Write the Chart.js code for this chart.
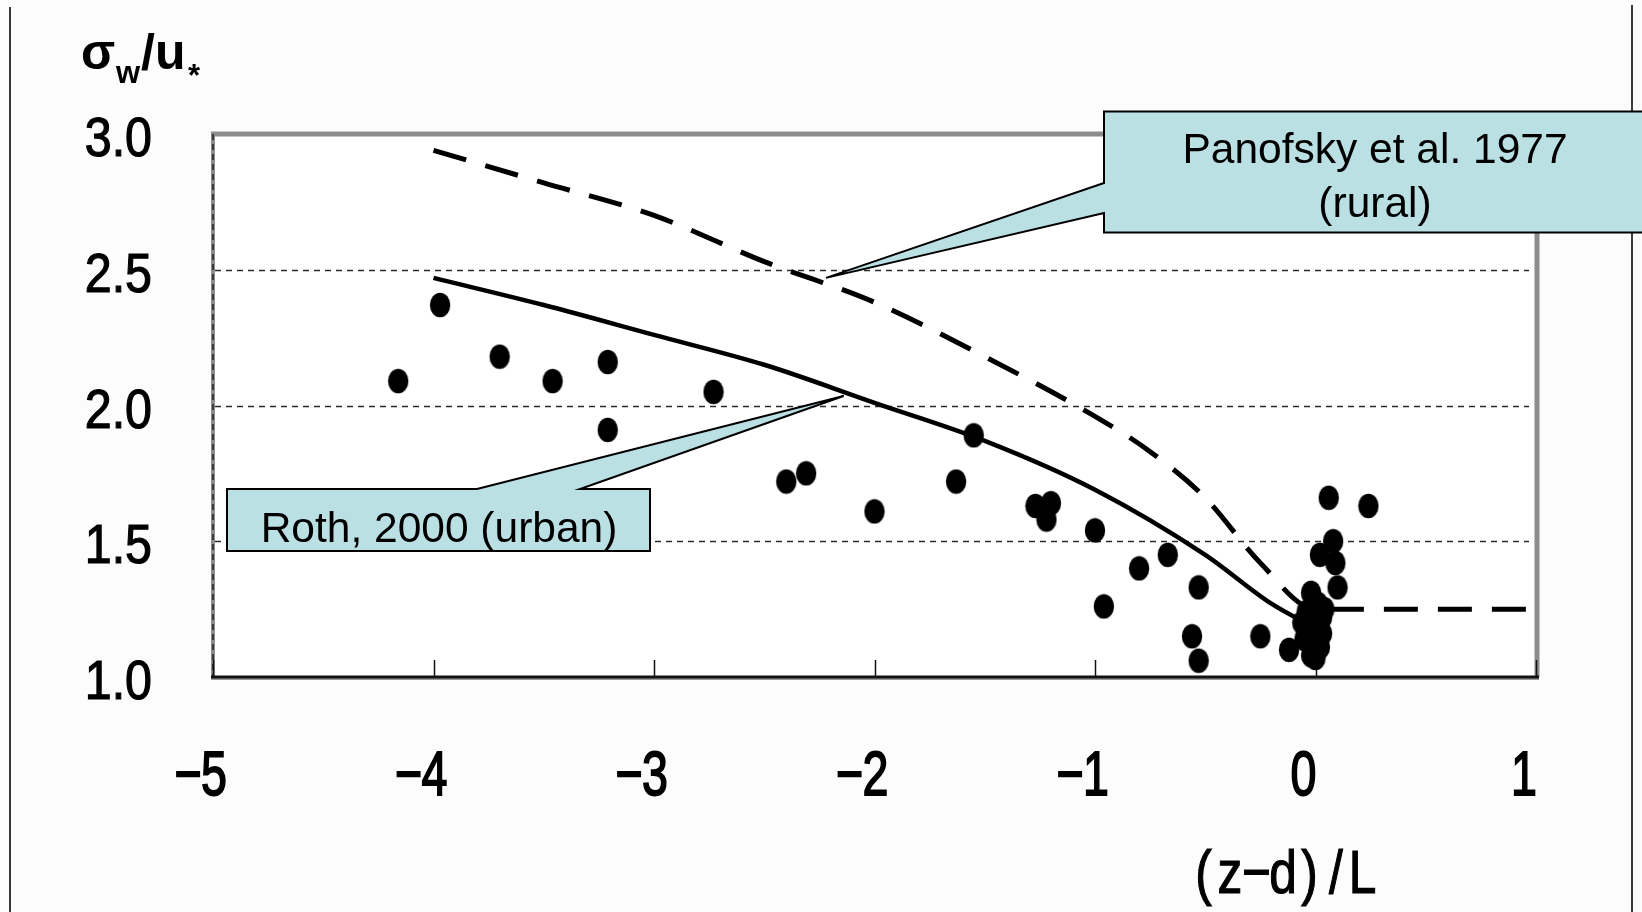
<!DOCTYPE html>
<html>
<head>
<meta charset="utf-8">
<title>sigma_w/u* against (z-d)/L</title>
<script src="https://cdn.jsdelivr.net/npm/chart.js@4.4.1/dist/chart.umd.min.js"></script>
<style>
  html, body { margin: 0; padding: 0; background: #fcfcfc; }
  canvas { display: block; }
</style>
</head>
<body>
<canvas id="chart" width="1642" height="912"></canvas>
<script>
const obsX = [-4.16, -3.97, -3.70, -3.46, -3.21, -3.21, -2.73, -2.40, -2.31, -2.00,
              -1.63, -1.55, -1.27, -1.20, -1.22, -1.00, -0.96, -0.80, -0.67, -0.53,
              -0.56, -0.53, -0.25, -0.12, 0.06, 0.24, 0.08, 0.02, 0.09, 0.10,
              -0.02, 0.01, -0.04, 0.03, -0.03, 0.03, -0.02, 0.02, -0.02, 0.00,
              -0.06, 0.04, -0.05];
const obsY = [2.09, 2.37, 2.18, 2.09, 2.16, 1.91, 2.05, 1.72, 1.75, 1.61,
              1.72, 1.89, 1.63, 1.64, 1.58, 1.54, 1.26, 1.40, 1.45, 1.33,
              1.15, 1.06, 1.15, 1.10, 1.66, 1.63, 1.50, 1.45, 1.42, 1.33,
              1.31, 1.27, 1.24, 1.22, 1.19, 1.16, 1.14, 1.11, 1.08, 1.07,
              1.20, 1.25, 1.14];

// Panofsky et al. 1977 (rural) - dashed curve
const panX = [-4, -3.5, -3, -2.5, -2, -1.5, -1, -0.75, -0.5, -0.25, 0, 0.5, 1];
const panY = [2.94, 2.82, 2.70, 2.53, 2.38, 2.18, 1.96, 1.83, 1.66, 1.42, 1.25, 1.25, 1.25];

// Roth, 2000 (urban) - solid curve
const rothX = [-4, -3.5, -3, -2.5, -2, -1.5, -1, -0.5, -0.2, 0];
const rothY = [2.47, 2.37, 2.26, 2.15, 2.01, 1.87, 1.69, 1.45, 1.27, 1.18];

const xTicks = [-5, -4, -3, -2, -1, 0, 1];
const xTickLabels = ['−5', '−4', '−3', '−2', '−1', '0', '1'];
const yTicks = [1.0, 1.5, 2.0, 2.5, 3.0];
const yTickLabels = ['1.0', '1.5', '2.0', '2.5', '3.0'];
const yGrid = [1.5, 2.0, 2.5];

// where the callout pointers touch the curves (data units)
const panTip = [-2.22, 2.47];
const rothTip = [-2.14, 2.035];

const toXY = (xs, ys) => xs.map((x, i) => ({ x: x, y: ys[i] }));

// slightly tall dots like in the original
const dot = document.createElement('canvas');
dot.width = 22;
dot.height = 26;
const dctx = dot.getContext('2d');
dctx.fillStyle = '#000';
dctx.beginPath();
dctx.ellipse(11, 13, 10.2, 12.2, 0, 0, Math.PI * 2);
dctx.fill();

function line(ctx, x1, y1, x2, y2) {
  ctx.beginPath();
  ctx.moveTo(x1, y1);
  ctx.lineTo(x2, y2);
  ctx.stroke();
}

// draws each character centred in a fixed-width cell (half-width gothic look)
function cellText(ctx, str, cx, base, cell, sx, stroke) {
  const chars = Array.from(str);
  const start = cx - chars.length * cell / 2;
  ctx.textAlign = 'center';
  chars.forEach((ch, i) => {
    ctx.save();
    ctx.translate(start + cell * (i + 0.5), base);
    ctx.scale(sx, 1);
    ctx.fillText(ch, 0, 0);
    if (stroke) {
      ctx.lineWidth = stroke;
      ctx.strokeText(ch, 0, 0);
    }
    ctx.restore();
  });
}

const framePlugin = {
  id: 'frame',
  beforeDatasetsDraw(chart) {
    const { ctx, chartArea: a, scales: { x, y } } = chart;
    ctx.save();

    // outer page rules
    ctx.strokeStyle = '#3a3a3a';
    ctx.lineWidth = 2;
    line(ctx, 10, 7, 10, 912);
    line(ctx, 1632, 5, 1632, 912);

    ctx.fillStyle = '#fff';
    ctx.fillRect(a.left, a.top, a.right - a.left, a.bottom - a.top);

    // dotted grid
    ctx.strokeStyle = '#2a2a2a';
    ctx.lineWidth = 1.5;
    ctx.setLineDash([6, 5]);
    yGrid.forEach(v => {
      const py = Math.round(y.getPixelForValue(v)) + 0.5;
      line(ctx, a.left + 2, py, a.right - 7, py);
    });
    ctx.setLineDash([]);

    // frame
    ctx.strokeStyle = '#8c8c8c';
    ctx.lineWidth = 5;
    line(ctx, a.left - 2, a.top, a.right + 2, a.top);
    line(ctx, a.right + 1, a.top, a.right + 1, a.bottom);
    ctx.lineWidth = 4;
    line(ctx, a.left, a.top, a.left, a.bottom);
    ctx.strokeStyle = '#222';
    ctx.lineWidth = 1.5;
    ctx.setLineDash([6, 4]);
    line(ctx, a.left, a.top, a.left, a.bottom);
    ctx.setLineDash([]);
    ctx.strokeStyle = '#999';
    ctx.lineWidth = 2;
    line(ctx, a.left - 2, a.bottom + 2, a.right + 3, a.bottom + 2);
    ctx.strokeStyle = '#111';
    ctx.lineWidth = 3;
    line(ctx, a.left - 2, a.bottom, a.right + 3, a.bottom);

    // small upward ticks
    ctx.lineWidth = 1.5;
    xTicks.forEach(v => {
      const px = Math.round(x.getPixelForValue(v)) + 0.5;
      line(ctx, px, a.bottom, px, a.bottom - 17);
    });
    ctx.restore();
  }
};

const textPlugin = {
  id: 'texts',
  afterDatasetsDraw(chart) {
    const { ctx, scales: { x, y } } = chart;
    ctx.save();
    ctx.fillStyle = '#000';
    ctx.strokeStyle = '#000';

    // y tick labels
    ctx.font = '55px "Liberation Sans", Arial, sans-serif';
    ctx.textAlign = 'right';
    ctx.lineWidth = 1.2;
    yTicks.forEach((v, i) => {
      ctx.save();
      ctx.translate(152, y.getPixelForValue(v) + 22);
      ctx.scale(0.88, 1);
      ctx.fillText(yTickLabels[i], 0, 0);
      ctx.strokeText(yTickLabels[i], 0, 0);
      ctx.restore();
    });

    // x tick labels
    ctx.font = '63px "Liberation Sans", Arial, sans-serif';
    xTicks.forEach((v, i) => {
      cellText(ctx, xTickLabels[i], x.getPixelForValue(v) - 12, 795, 26, 0.74, 1.8);
    });

    // x title
    ctx.font = '62px "Liberation Sans", Arial, sans-serif';
    cellText(ctx, '(z−d)/L', 1283, 893, 26.5, 0.8, 1.2);

    // y title: sigma_w / u_*
    ctx.textAlign = 'left';
    ctx.font = 'bold 50px "Liberation Sans", Arial, sans-serif';
    ctx.fillText('σ', 81, 69);
    ctx.fillText('/u', 141, 69);
    ctx.font = 'bold 31px "Liberation Sans", Arial, sans-serif';
    ctx.fillText('w', 116, 83);
    ctx.fillText('*', 188, 86);

    // callouts
    ctx.fillStyle = '#bbe0e3';
    ctx.lineWidth = 2;
    ctx.lineJoin = 'miter';

    const pt = [x.getPixelForValue(panTip[0]), y.getPixelForValue(panTip[1])];
    ctx.beginPath();
    ctx.moveTo(1104, 111.5);
    ctx.lineTo(1660, 111.5);
    ctx.lineTo(1660, 232.5);
    ctx.lineTo(1104, 232.5);
    ctx.lineTo(1104, 213);
    ctx.lineTo(pt[0], pt[1]);
    ctx.lineTo(1104, 183);
    ctx.closePath();
    ctx.fill();
    ctx.stroke();

    const rt = [x.getPixelForValue(rothTip[0]), y.getPixelForValue(rothTip[1])];
    ctx.beginPath();
    ctx.moveTo(227, 489);
    ctx.lineTo(477, 489);
    ctx.lineTo(rt[0], rt[1]);
    ctx.lineTo(580, 489);
    ctx.lineTo(650, 489);
    ctx.lineTo(650, 551);
    ctx.lineTo(227, 551);
    ctx.closePath();
    ctx.fill();
    ctx.stroke();

    ctx.fillStyle = '#000';
    ctx.textAlign = 'center';
    ctx.font = '42.5px "Liberation Sans", Arial, sans-serif';
    ctx.fillText('Panofsky et al. 1977', 1375, 163);
    ctx.fillText('(rural)', 1375, 217);
    ctx.fillText('Roth, 2000 (urban)', 439, 542);
    ctx.restore();
  }
};

new Chart(document.getElementById('chart'), {
  type: 'scatter',
  data: {
    datasets: [
      {
        label: 'observed',
        data: toXY(obsX, obsY),
        pointStyle: dot,
        pointRadius: 11,
        pointHoverRadius: 11,
        order: 0
      },
      {
        label: 'Panofsky et al. 1977 (rural)',
        data: toXY(panX, panY),
        showLine: true,
        borderColor: '#000',
        borderWidth: 5,
        borderDash: [34, 20],
        pointRadius: 0,
        cubicInterpolationMode: 'monotone',
        order: 1
      },
      {
        label: 'Roth, 2000 (urban)',
        data: toXY(rothX, rothY),
        showLine: true,
        borderColor: '#000',
        borderWidth: 4.5,
        pointRadius: 0,
        cubicInterpolationMode: 'monotone',
        order: 2
      }
    ]
  },
  options: {
    responsive: false,
    animation: false,
    layout: { padding: { left: 213, right: 106, top: 134, bottom: 235 } },
    scales: {
      x: { type: 'linear', min: -5, max: 1, display: false },
      y: { type: 'linear', min: 1, max: 3, display: false }
    },
    plugins: {
      legend: { display: false },
      tooltip: { enabled: false }
    }
  },
  plugins: [framePlugin, textPlugin]
});
</script>
</body>
</html>
